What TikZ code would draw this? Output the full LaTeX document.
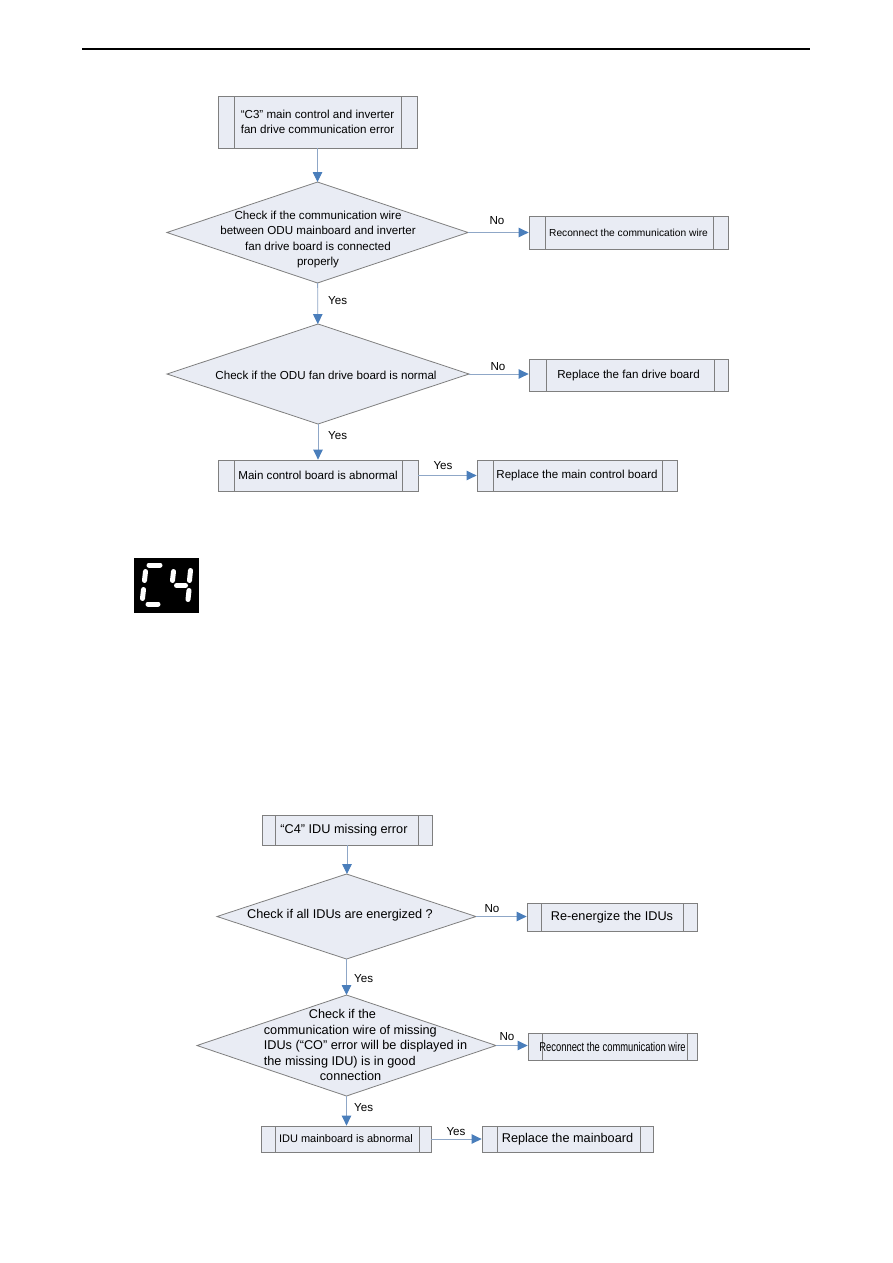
\documentclass[tikz,border=0pt]{standalone}
\usepackage{fontspec}
\setmainfont{Liberation Sans}
\usetikzlibrary{shapes.geometric,arrows.meta}
\definecolor{boxfill}{HTML}{E9ECF4}
\definecolor{bordergray}{HTML}{7F7F7F}
\definecolor{linecol}{HTML}{8FA7C7}
\definecolor{tipcol}{HTML}{4A7EBB}
\newcommand\ftop{\fontsize{11.6}{15.5}\selectfont}
\newcommand\fsm{\fontsize{10.2}{12}\selectfont}
\newcommand\fbot{\fontsize{12.7}{15.5}\selectfont}
\newcommand\fmid{\fontsize{11}{13}\selectfont}
\begin{document}
\begin{tikzpicture}[x=1pt,y=-1pt,
  pbox/.style 2 args={rectangle, draw=bordergray, fill=boxfill, line width=0.8pt, inner sep=0pt,
    path picture={
      \draw[bordergray, line width=0.8pt] ([xshift=#1pt]path picture bounding box.north west) -- ([xshift=#1pt]path picture bounding box.south west);
      \draw[bordergray, line width=0.8pt] ([xshift=-#2pt]path picture bounding box.north east) -- ([xshift=-#2pt]path picture bounding box.south east);
    }},
  dia/.style={diamond, draw=bordergray, fill=boxfill, line width=0.8pt, inner sep=0pt, outer sep=0pt},
  conn/.style={draw=linecol, line width=0.9pt, -{Triangle[length=10pt,width=9.5pt,color=tipcol,fill=tipcol]}},
  lab/.style={inner sep=0pt},
  dtext/.style={inner sep=0pt, align=center}
]
\useasboundingbox (0,0) rectangle (893,1263);
\fill[white] (0,0) rectangle (893,1263);

% header rule
\coordinate (hl) at (82,49);
\coordinate (hr) at (810,49);
\draw[black, line width=1.3pt] (hl) -- (hr);

% ---------------- C3 flowchart ----------------
\node[pbox={16}{16}, minimum width=199pt, minimum height=52pt, align=center, font=\ftop] (c3) at (317.5,122)
  {“C3” main control and inverter\\fan drive communication error};

\node[dia, minimum width=301pt, minimum height=101pt] (d1) at (317.5,232.5) {};
\node[dtext, font=\ftop] (d1t) at (318,239.5)
  {Check if the communication wire\\between ODU mainboard and inverter\\fan drive board is connected\hspace*{20pt}\\properly};

\node[pbox={16}{15}, minimum width=199pt, minimum height=33pt, font=\fsm] (r1) at (628.5,232.5)
  {Reconnect the communication wire};

\node[dia, minimum width=302pt, minimum height=100pt] (d2) at (318,374) {};
\node[dtext, font=\ftop] (d2t) at (326,375) {Check if the ODU fan drive board is normal};

\node[pbox={17}{14}, minimum width=199pt, minimum height=32pt, font=\ftop] (r2) at (628.5,375)
  {Replace the fan drive board};

\node[pbox={16}{16}, minimum width=200pt, minimum height=31pt, font=\ftop] (m1) at (318,475.5)
  {Main control board is abnormal};
\node[pbox={16}{15}, minimum width=200pt, minimum height=31pt, font=\ftop] (m2) at (577,475.5)
  {Replace the main control board};

\draw[conn] (c3) -- (d1);
\draw[conn] (d1.east) -- (d1.east -| r1.west);
\node[lab, font=\ftop] (n1) at (497,221) {No};
\draw[conn] (d1) -- (d2);
\node[lab, font=\ftop, anchor=west] (y1) at (328,301) {Yes};
\draw[conn] (d2.east) -- (d2.east -| r2.west);
\node[lab, font=\ftop] (n2) at (498,367) {No};
\draw[conn] (d2) -- (m1);
\node[lab, font=\ftop, anchor=west] (y2) at (328,436) {Yes};
\draw[conn] (m1) -- (m2);
\node[lab, font=\ftop] (y3) at (443,466) {Yes};

% ---------------- C4 display icon ----------------
\fill[black] (134,558) rectangle (199,613);
\begin{scope}[white, line width=5pt, line cap=round]
  % C
  \draw (149,565) -- (160,565);
  \draw (145.5,571.5) -- (144.5,580.5);
  \draw (143.5,589.5) -- (142.5,598.5);
  \draw (148,604) -- (158,604);
  % 4
  \draw (173.5,571.5) -- (172.5,580.5);
  \draw (190.5,570.5) -- (189.5,580.5);
  \draw (176.5,585.5) -- (185.5,585.5);
  \draw (189,590.5) -- (188,599.5);
\end{scope}

% ---------------- C4 flowchart ----------------
\node[pbox={13}{14}, minimum width=170pt, minimum height=30pt, font=\fbot] (c4) at (347,830)
  {\hspace*{-6pt}“C4” IDU missing error};

\node[dia, minimum width=259pt, minimum height=85pt] (d3) at (346.5,916.5) {};
\node[dtext, font=\fbot] (d3t) at (340,915) {Check if all IDUs are energized ?};

\node[pbox={14}{14}, minimum width=170pt, minimum height=28pt, font=\fbot] (r3) at (612,917)
  {Re-energize the IDUs};

\node[dia, minimum width=299pt, minimum height=101pt] (d4) at (346.5,1045.5) {};
\node[inner sep=0pt, align=left, font=\fbot] (d4t) at (365.5,1045)
  {\hspace*{45pt}Check if the\\communication wire of missing\\IDUs (“CO” error will be displayed in\\the missing IDU) is in good\\\hspace*{56pt}connection};

\node[pbox={14}{10}, minimum width=169pt, minimum height=27pt, font=\fbot] (r4) at (612.5,1046.5)
  {\scalebox{0.74}[1]{Reconnect the communication wire}};

\node[pbox={14}{12}, minimum width=170pt, minimum height=26pt, font=\fmid] (i1) at (346,1139)
  {IDU mainboard is abnormal};
\node[pbox={15}{13}, minimum width=171pt, minimum height=26pt, font=\fbot] (rm) at (567.5,1139)
  {Replace the mainboard};

\draw[conn] (c4) -- (c4 |- d3.north);
\draw[conn] (d3.east) -- (d3.east -| r3.west);
\node[lab, font=\ftop] (n3) at (492,909) {No};
\draw[conn] (d3.south) -- (d3.south |- d4.north);
\node[lab, font=\ftop, anchor=west] (y4) at (354,979) {Yes};
\draw[conn] (d4.east) -- (d4.east -| r4.west);
\node[lab, font=\ftop] (n4) at (507,1037) {No};
\draw[conn] (d4.south) -- (d4.south |- i1.north);
\node[lab, font=\ftop, anchor=west] (y5) at (354,1108) {Yes};
\draw[conn] (i1) -- (rm);
\node[lab, font=\ftop] (y6) at (456,1132) {Yes};
\end{tikzpicture}
\end{document}
